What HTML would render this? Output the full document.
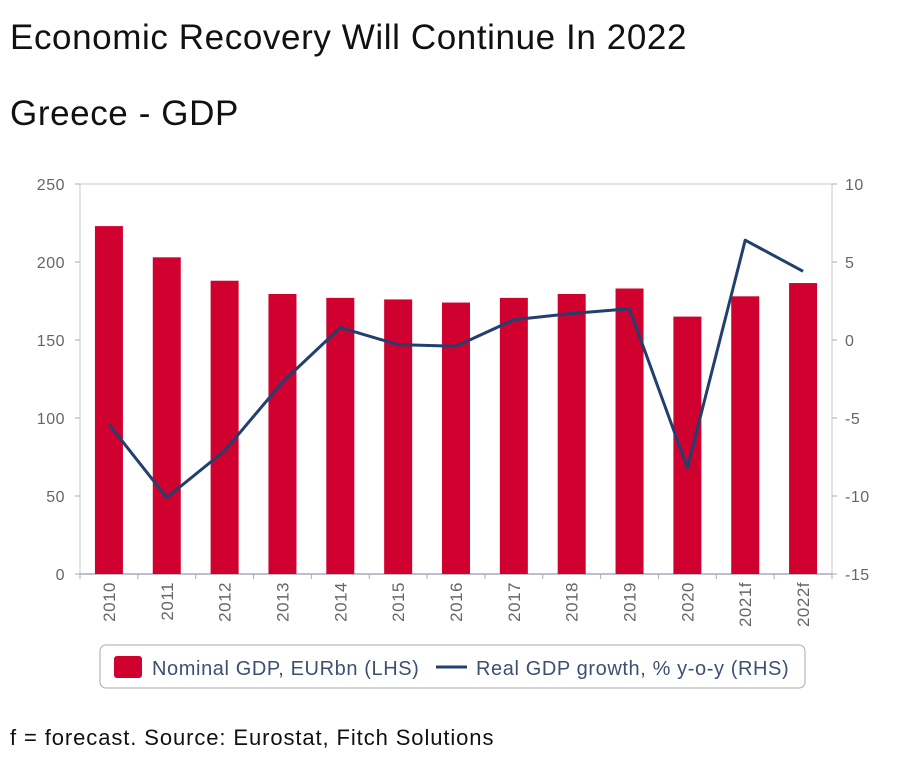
<!DOCTYPE html>
<html><head><meta charset="utf-8"><style>
body{margin:0;background:#fff;width:917px;height:757px;overflow:hidden;font-family:"Liberation Sans",sans-serif;}
.t{position:absolute;left:10px;color:#111;white-space:nowrap;}
</style></head><body>
<div class="t" style="top:18px;font-size:35px;letter-spacing:0.6px;">Economic Recovery Will Continue In 2022</div>
<div class="t" style="top:94px;font-size:35px;letter-spacing:0.6px;">Greece - GDP</div>
<svg id="c" width="917" height="757" style="position:absolute;left:0;top:0"></svg>
<div class="t" style="top:725px;font-size:22px;letter-spacing:0.9px;">f = forecast. Source: Eurostat, Fitch Solutions</div>
<script>
const categories=["2010","2011","2012","2013","2014","2015","2016","2017","2018","2019","2020","2021f","2022f"];
const nominalGdp=[223,203,188,179.5,177,176,174,177,179.5,183,165,178,186.5];
const realGrowth=[-5.4,-10.1,-7.1,-2.7,0.8,-0.3,-0.4,1.3,1.7,2.0,-8.2,6.4,4.4];
const leftTicks=[0,50,100,150,200,250];
const rightTicks=[-15,-10,-5,0,5,10];
const NS="http://www.w3.org/2000/svg";
const svg=document.getElementById('c');
const X0=80,X1=832,Y0=574,Y1=184;
const band=(X1-X0)/categories.length;
const yL=v=>Y0-(v-0)/(250-0)*(Y0-Y1);
const yR=v=>Y0-(v+15)/25*(Y0-Y1);
const xC=i=>X0+band*(i+0.5);
function mk(t,a,txt){const e=document.createElementNS(NS,t);for(const k in a)e.setAttribute(k,a[k]);if(txt!==undefined)e.textContent=txt;svg.appendChild(e);return e;}
let e=mk('rect',{x:X0,y:Y1,width:X1-X0,height:Y0-Y1,fill:'none',stroke:'#c8c8c8'});


leftTicks.forEach(v=>{const t=mk('text',{x:65,y:yL(v)+6,'text-anchor':'end','font-size':16,fill:'#666','letter-spacing':0.5},v);


mk('line',{x1:X0-5,x2:X0,y1:yL(v),y2:yL(v),stroke:'#aab'});});
rightTicks.forEach(v=>{const t=mk('text',{x:845,y:yR(v)+6,'font-size':16,fill:'#666','letter-spacing':0.5},v);


mk('line',{x1:X1,x2:X1+5,y1:yR(v),y2:yR(v),stroke:'#aab'});});
mk('line',{x1:X0,x2:X1,y1:Y0,y2:Y0,stroke:'#aab','stroke-width':1.5});
for(let i=0;i<=categories.length;i++)mk('line',{x1:X0+band*i,x2:X0+band*i,y1:Y0,y2:Y0+5,stroke:'#aab'});
categories.forEach((c,i)=>{
 const b=mk('rect',{x:xC(i)-14,y:yL(nominalGdp[i]),width:28,height:Y0-yL(nominalGdp[i]),fill:'#d0002f'});
 
 
 const t=mk('text',{transform:`translate(${xC(i)+6},582) rotate(-90)`,'text-anchor':'end','font-size':17,fill:'#666','letter-spacing':0.5},c);
 
 
});
const l=mk('polyline',{points:realGrowth.map((v,i)=>xC(i)+','+yR(v)).join(' '),fill:'none',stroke:'#22406e','stroke-width':3,'stroke-linejoin':'round'});


const lg=mk('rect',{x:100,y:645,width:705,height:43,rx:6,fill:'#fff',stroke:'#aaa'});


const s=mk('rect',{x:114,y:656,width:28,height:22,rx:3,fill:'#d0002f'});


const t1=mk('text',{x:152,y:675,'font-size':20,fill:'#3d5070','letter-spacing':0.6},'Nominal GDP, EURbn (LHS)');


mk('line',{x1:436,x2:467,y1:667,y2:667,stroke:'#22406e','stroke-width':3});
const t2=mk('text',{x:476,y:675,'font-size':20,fill:'#3d5070','letter-spacing':0.6},'Real GDP growth, % y-o-y (RHS)');


</script>
</body></html>
